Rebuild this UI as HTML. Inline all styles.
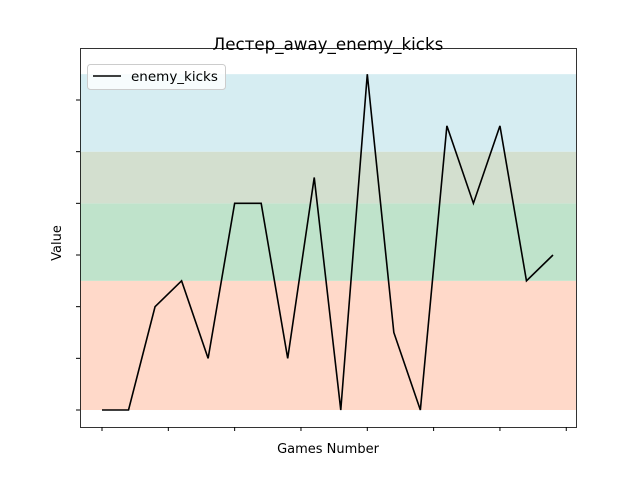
<!DOCTYPE html>
<html><head><meta charset="utf-8"><style>
body{margin:0;background:#fff;font-family:"Liberation Sans","DejaVu Sans",sans-serif}
</style></head><body>
<svg id="chart" width="640" height="480" xmlns="http://www.w3.org/2000/svg">
<rect width="640" height="480" fill="#fff"/>
<g id="bands"></g>
<g id="ticks"></g>
<polyline id="line" fill="none" stroke="#000" stroke-width="1.6"/>
<rect x="80.5" y="48.5" width="496" height="379" fill="none" stroke="#000" stroke-width="0.8"/>
<text x="328" y="50" text-anchor="middle" font-size="16.7" font-family="DejaVu Sans, sans-serif">Лестер_away_enemy_kicks</text>
<text x="328" y="453" text-anchor="middle" font-size="13" font-family="DejaVu Sans, sans-serif">Games Number</text>
<text transform="translate(61,243) rotate(-90)" text-anchor="middle" font-size="13" font-family="DejaVu Sans, sans-serif">Value</text>
<g>
<rect x="87.5" y="64.5" width="138" height="25" rx="3" fill="#fff" fill-opacity="0.8" stroke="#ccc"/>
<line x1="93" y1="76" x2="121" y2="76" stroke="#000" stroke-width="1.6"/>
<text x="131" y="81" font-size="13.5" font-family="DejaVu Sans, sans-serif">enemy_kicks</text>
</g>
</svg>
<script>
const values=[0,0,2,2.5,1,4,4,1,4.5,0,6.5,1.5,0,5.5,4,5.5,2.5,3];
const bandLo=[0,2.5,4,5];
const bandHi=[2.5,4,5,6.5];
const bandColors=["#ffd9c9","#bfe3cb","#d3dfcf","#d6edf2"];
const yTicks=[0,1,2,3,4,5,6];
const xTicks=[0,2.5,5,7.5,10,12.5,15,17.5];
const ns="http://www.w3.org/2000/svg";
function sx(i){return 102+i*(553-102)/17;}
function sy(v){return 410-v*(410-100)/6;}
const bands=document.getElementById('bands');
bandLo.forEach((lo,k)=>{
 const r=document.createElementNS(ns,'rect');
 r.setAttribute('x',80);r.setAttribute('width',496);
 r.setAttribute('y',sy(bandHi[k]));r.setAttribute('height',sy(lo)-sy(bandHi[k]));
 r.setAttribute('fill',bandColors[k]);
 
 
 bands.appendChild(r);
});
const tg=document.getElementById('ticks');
yTicks.forEach(v=>{
 const l=document.createElementNS(ns,'line');
 l.setAttribute('x1',76);l.setAttribute('x2',80);l.setAttribute('y1',sy(v));l.setAttribute('y2',sy(v));
 l.setAttribute('stroke','#000');
 
 
 tg.appendChild(l);
});
xTicks.forEach(v=>{
 const l=document.createElementNS(ns,'line');
 l.setAttribute('x1',sx(v));l.setAttribute('x2',sx(v));l.setAttribute('y1',427);l.setAttribute('y2',431);
 l.setAttribute('stroke','#000');
 
 
 tg.appendChild(l);
});
document.getElementById('line').setAttribute('points',values.map((v,i)=>sx(i)+','+sy(v)).join(' '));
</script>
</body></html>
